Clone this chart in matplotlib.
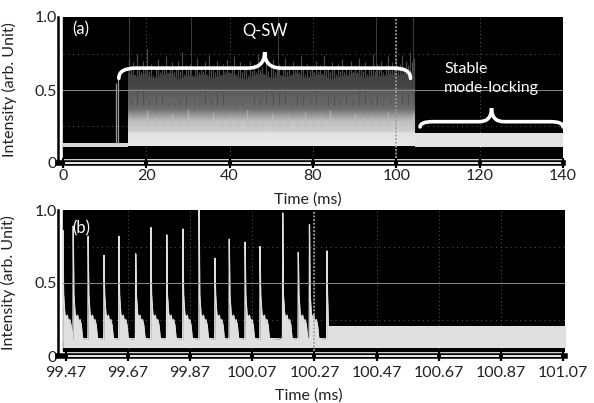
import numpy as np
import matplotlib
matplotlib.use('Agg')
import matplotlib.pyplot as plt
from matplotlib.path import Path
from matplotlib.patches import PathPatch, Rectangle
from matplotlib.colors import LinearSegmentedColormap
from matplotlib.transforms import blended_transform_factory

plt.rcParams['font.family'] = ['Lato', 'DejaVu Sans']

# ---- panel (a): long time trace (ms) ----
# tick labels are the ones printed on the original figure
xticks_a = [20, 40, 60, 80, 100, 120, 140]
xticklabels_a = ['0', '20', '40', '80', '100', '120', '140']

cw_t = [20.0, 35.6]
cw_band = (0.112, 0.134)
precursor_t = [32.7, 33.3]
precursor_h = [0.55, 0.58]
tall_spike_t = [35.9, 50.7, 71.7, 95.2, 103.9]

qsw_start, qsw_end = 35.6, 104.5
# upper edge of the dense dark part
qsw_body = [0.62, 0.59, 0.61, 0.58, 0.60, 0.62, 0.57, 0.60, 0.59, 0.61,
            0.58, 0.60, 0.62, 0.59, 0.57, 0.60, 0.61, 0.58, 0.60, 0.59,
            0.62, 0.58, 0.60, 0.61, 0.57, 0.59, 0.60, 0.62, 0.58, 0.60,
            0.59, 0.61, 0.60, 0.62, 0.63]
# individual Q-switched pulse tops (about every 0.5 ms)
qsw_spikes = [0.72, 0.64, 0.69, 0.61, 0.75, 0.66, 0.62, 0.70, 0.65, 0.78,
              0.63, 0.68, 0.60, 0.66, 0.71, 0.62, 0.67, 0.64, 0.73, 0.61,
              0.66, 0.69, 0.62, 0.65, 0.70, 0.63, 0.76, 0.61, 0.67, 0.64,
              0.68, 0.60, 0.65, 0.72, 0.62, 0.66, 0.63, 0.69, 0.61, 0.74,
              0.64, 0.67, 0.62, 0.70, 0.65, 0.60, 0.68, 0.63, 0.71, 0.62,
              0.66, 0.73, 0.61, 0.64, 0.69, 0.62, 0.67, 0.65, 0.60, 0.70,
              0.63, 0.68, 0.62, 0.75, 0.64, 0.66, 0.61, 0.69, 0.63, 0.67,
              0.71, 0.62, 0.65, 0.68, 0.60, 0.66, 0.72, 0.63, 0.65, 0.61,
              0.69, 0.64, 0.67, 0.62, 0.73, 0.65, 0.61, 0.68, 0.64, 0.66,
              0.62, 0.70, 0.63, 0.67, 0.61, 0.74, 0.64, 0.66, 0.62, 0.69,
              0.65, 0.61, 0.68, 0.63, 0.71, 0.62, 0.66, 0.64, 0.70, 0.63,
              0.67, 0.62, 0.72, 0.65, 0.63, 0.69, 0.61, 0.66, 0.64, 0.75,
              0.63, 0.68, 0.65, 0.70, 0.62, 0.67, 0.73, 0.64, 0.69, 0.66,
              0.71, 0.65, 0.68, 0.74, 0.66, 0.70, 0.67, 0.76, 0.69, 0.72]
# top of the light grey streaks
qsw_light = [0.33, 0.29, 0.36, 0.31, 0.28, 0.34, 0.30, 0.37, 0.29, 0.32,
             0.35, 0.28, 0.33, 0.30, 0.36, 0.29, 0.31, 0.34, 0.28, 0.33,
             0.30, 0.35, 0.29, 0.32, 0.36, 0.30, 0.28, 0.34, 0.31, 0.33,
             0.29, 0.35, 0.30, 0.32, 0.34]
qsw_floor = 0.115

stable_a_t = [104.5, 140.0]
stable_a_band = (0.110, 0.205)

# ---- panel (b): zoom around the transition (ms) ----
xticks_b = [99.47, 99.67, 99.87, 100.07, 100.27, 100.47, 100.67, 100.87, 101.07]
pulse_t = [99.461, 99.494, 99.542, 99.593, 99.641, 99.695, 99.744, 99.795,
           99.847, 99.899, 99.950, 99.996, 100.047, 100.095, 100.168,
           100.218, 100.254, 100.310]
pulse_peak = [0.86, 0.89, 0.82, 0.69, 0.82, 0.70, 0.88, 0.83, 0.87, 1.00,
              0.67, 0.80, 0.78, 0.75, 0.98, 0.71, 0.90, 0.72]
# decay of one pulse: (time after peak, level)
tail_dt = [0.002, 0.006, 0.010, 0.014, 0.018, 0.022, 0.026, 0.030]
tail_lv = [0.42, 0.29, 0.26, 0.28, 0.23, 0.25, 0.21, 0.12]
base_b = (0.058, 0.105)
stable_b_t = [100.318, 101.08]
stable_b_band = (0.058, 0.205)

yticks = [0, 0.5, 1.0]
yticklabels = ['0', '0.5', '1.0']

TXT = '#222222'
scope_grey = LinearSegmentedColormap.from_list('scope', [
    (0.00, '#e8e8e8'), (0.13, '#e2e2e2'), (0.14, '#d0d0d0'), (0.24, '#c2c2c2'),
    (0.30, '#9c9c9c'), (0.37, '#6c6c6c'), (0.56, '#5a5a5a'), (0.57, '#464646'),
    (1.00, '#343434')])


def brace(ax, x0, x1, y_end, y_bar, y_tip, rx):
    xc = (x0 + x1) / 2
    verts = [(x0, y_end), (x0, y_bar), (x0 + rx, y_bar),
             (xc - rx, y_bar), (xc, y_bar), (xc, y_tip),
             (xc, y_bar), (xc + rx, y_bar),
             (x1 - rx, y_bar), (x1, y_bar), (x1, y_end)]
    codes = [Path.MOVETO, Path.CURVE3, Path.CURVE3,
             Path.LINETO, Path.CURVE3, Path.CURVE3,
             Path.CURVE3, Path.CURVE3,
             Path.LINETO, Path.CURVE3, Path.CURVE3]
    ax.add_patch(PathPatch(Path(verts, codes), fill=False, ec='white',
                           lw=2.6, capstyle='round', zorder=6))


def scope_axes(ax, xlim, xticks, xlabels, label_pad, xlabel_y, tag, tag_y, cursor):
    ax.set_xlim(*xlim)
    ax.set_ylim(0, 1.0)
    ax.set_facecolor('white')
    # black screen, inset a little from the axis lines
    ax.add_patch(Rectangle((0.010, 0.034), 0.990, 0.966, transform=ax.transAxes,
                           color='black', zorder=0))
    for s in ['top', 'right']:
        ax.spines[s].set_visible(False)
    ax.spines['left'].set_linewidth(1.8)
    ax.spines['bottom'].set_linewidth(4.0)
    ax.set_xticks(xticks)
    ax.set_xticklabels(xlabels)
    ax.set_yticks(yticks)
    ax.set_yticklabels(yticklabels)
    ax.tick_params(axis='x', direction='inout', length=7, width=1.6,
                   colors='black', labelcolor=TXT, labelsize=11.5, pad=label_pad)
    ax.tick_params(axis='y', length=0, labelcolor=TXT, labelsize=11.5, pad=1)
    # hollow look of the bottom axis line
    trans = blended_transform_factory(ax.transData, ax.transAxes)
    pad = (xlim[1] - xlim[0]) * 0.004
    for a, b in zip(xticks[:-1], xticks[1:]):
        ax.plot([a + pad, b - pad], [0, 0], transform=trans, color='white',
                lw=1.3, clip_on=False, zorder=5, solid_capstyle='butt')
    # screen graticule
    for xt in xticks[1:-1]:
        ax.axvline(xt, color='#5a5a5a', lw=0.7, ls=(0, (1, 3)), zorder=1)
    for yv in [0.25, 0.75]:
        ax.axhline(yv, color='#5a5a5a', lw=0.7, ls=(0, (1, 4)), zorder=1)
    ax.axhline(0.5, xmin=0.01, color='#8a8a8a', lw=0.7, zorder=3)
    ax.axvline(cursor, ymin=0.034, color='#a0a0a0', lw=1.3, ls=(0, (1, 1)), zorder=4)
    ax.set_ylabel('Intensity (arb. Unit)', color=TXT, fontsize=11.5)
    ax.yaxis.set_label_coords(-0.082, 0.5)
    ax.set_xlabel('Time (ms)', color=TXT, fontsize=11.5)
    ax.xaxis.set_label_coords(0.495, xlabel_y)
    ax.text(0.046, tag_y, tag, transform=ax.transAxes, color='white',
            fontsize=12, ha='center', va='center', zorder=7)


fig = plt.figure(figsize=(5.94, 4.03), dpi=100)
ax1 = fig.add_axes([58 / 594, 1 - 163 / 403, 505 / 594, 146 / 403])
ax2 = fig.add_axes([58 / 594, 1 - 356 / 403, 507 / 594, 146 / 403])

# ---- draw (a) ----
ax = ax1
t_body = np.linspace(qsw_start, qsw_end, len(qsw_body))
t_spk = np.linspace(qsw_start + 0.2, qsw_end - 0.2, len(qsw_spikes))
t_light = np.linspace(qsw_start + 0.5, qsw_end - 0.5, len(qsw_light))

ax.fill_between(cw_t, cw_band[0], cw_band[1], color='#d6d6d6', lw=0, zorder=2)
ax.vlines(precursor_t, cw_band[1], precursor_h, color='#9a9a9a', lw=0.9, zorder=2)
ax.vlines(tall_spike_t, 0.2, 1.0, color='#3c3c3c', lw=0.8, zorder=1.5)

ax.vlines(t_spk, 0.5, qsw_spikes, color='#4c4c4c', lw=0.9, zorder=2)
body = ax.fill_between(t_body, qsw_floor, qsw_body, color='none', lw=0, zorder=2)
shade = ax.imshow(np.linspace(0, 1, 256).reshape(-1, 1), cmap=scope_grey,
                  extent=[qsw_start, qsw_end, qsw_floor, 0.80], origin='lower',
                  aspect='auto', interpolation='bilinear', zorder=2.1)
shade.set_clip_path(body.get_paths()[0], transform=ax.transData)
ax.vlines(t_light, 0.24, qsw_light, color='#bdbdbd', lw=1.0, alpha=0.7, zorder=2.2)
ax.vlines(t_spk[1::3], 0.40, np.array(qsw_spikes[1::3]) - 0.2, color='#4e4e4e',
          lw=0.8, alpha=0.8, zorder=2.2)
ax.fill_between(stable_a_t, stable_a_band[0], stable_a_band[1], color='#e2e2e2', lw=0, zorder=2)

scope_axes(ax, (18.8, 140), xticks_a, xticklabels_a, 0.5, -0.2, '(a)', 0.918, 100)

brace(ax, 33.4, 103.4, 0.58, 0.65, 0.76, 4.0)
brace(ax, 105.7, 140.0, 0.247, 0.283, 0.375, 3.0)
ax.text(68.6, 0.905, 'Q-SW', color='white', fontsize=12, ha='center', va='center', zorder=7)
ax.text(111.5, 0.58, 'Stable\nmode-locking', color='white', fontsize=11.5,
        ha='left', va='center', linespacing=1.45, zorder=7)

# ---- draw (b) ----
ax = ax2
ut, uv = [], []
for i, (tp, pk) in enumerate(zip(pulse_t, pulse_peak)):
    t_next = pulse_t[i + 1] if i + 1 < len(pulse_t) else stable_b_t[0]
    ut += [tp - 0.001, tp]
    uv += [base_b[1], pk]
    for dt, lv in zip(tail_dt, tail_lv):
        if tp + dt < t_next - 0.002:
            ut.append(tp + dt)
            uv.append(lv)
    ut.append(t_next - 0.002)
    uv.append(base_b[1] + 0.012)
ax.fill_between(ut, base_b[0], uv, color='#e0e0e0', lw=0, zorder=2)
ax.plot(ut, uv, color='#e0e0e0', lw=0.9, zorder=2)
ax.fill_between(stable_b_t, stable_b_band[0], stable_b_band[1], color='#e0e0e0', lw=0, zorder=2)

scope_axes(ax, (99.445, 101.076), xticks_b, [f'{v:.2f}' for v in xticks_b],
           4, -0.225, '(b)', 0.877, 100.27)

fig.savefig('out.png', dpi=100)
